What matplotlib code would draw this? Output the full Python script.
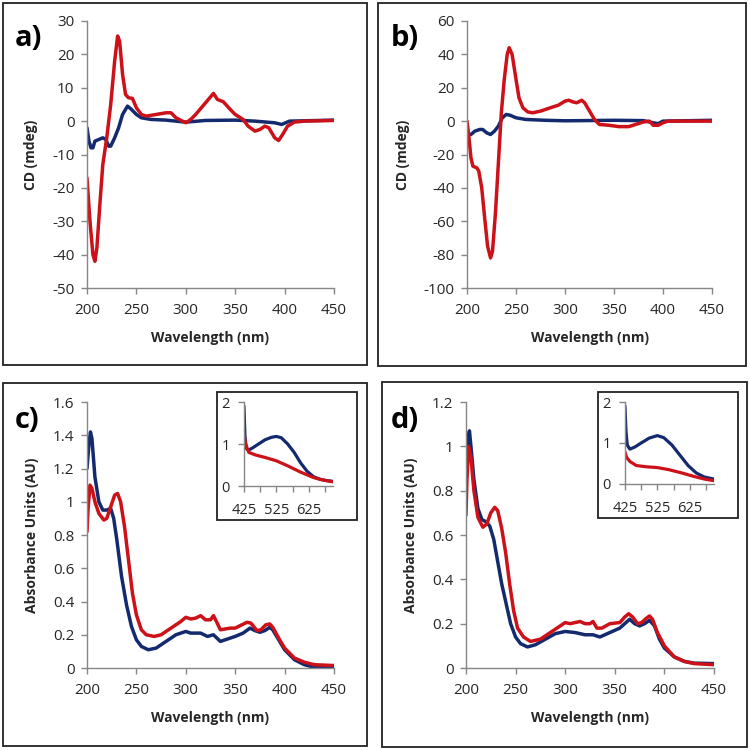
import matplotlib.pyplot as plt
from matplotlib.patches import Rectangle
from matplotlib.ticker import FuncFormatter, MultipleLocator

# ---- data ----
# panel a: CD
a_red_x = [200, 203, 206, 208, 210, 213, 216, 220, 224, 228, 231, 233, 236, 239, 242, 246, 250, 255, 260,
           270, 280, 285, 290, 300, 305, 310, 320, 328, 332, 338, 345, 350, 358, 363, 370, 375, 380, 384,
           390, 394, 398, 403, 410, 420, 450]
a_red_y = [-17, -30, -40, -42, -38, -25, -13, -5, 5, 18, 25.5, 24, 14, 8, 7, 6.8, 4, 2, 1.5,
           2, 2.5, 2.5, 1, -0.5, 0.5, 2, 5.5, 8.3, 6.5, 5.8, 3.5, 2, 0.5, -1.5, -3, -2.5, -1.5, -2,
           -5, -5.8, -4, -1.5, -0.3, 0, 0.2]
a_blue_x = [200, 202, 204, 206, 208, 212, 216, 219, 222, 224, 228, 232, 236, 241, 245, 250, 255, 265,
            280, 300, 320, 350, 370, 390, 397, 405, 450]
a_blue_y = [-2, -6, -8, -8, -6, -5.5, -5, -5.5, -7.5, -7.5, -5, -2, 2, 4.5, 3.5, 2, 1, 0.5,
            0.3, -0.3, 0.2, 0.3, 0, -0.5, -1, 0, 0.3]

# panel b: CD
b_red_x = [200, 202, 204, 206, 210, 212, 215, 218, 221, 224, 226, 229, 232, 235, 238, 241, 243, 246,
           250, 253, 257, 262, 267, 275, 285, 293, 300, 304, 308, 312, 317, 320, 325, 330, 335, 345,
           355, 365, 372, 380, 386, 390, 395, 400, 405, 450]
b_red_y = [0, -10, -22, -27, -28, -30, -40, -58, -75, -82, -78, -55, -25, 5, 25, 40, 44, 40,
           25, 14, 8, 5.5, 5, 6, 8, 9.5, 12, 12.5, 11.5, 11, 12.5, 11, 6, 1, -2, -2.5,
           -3.3, -3.3, -2, -0.5, 0, -2.5, -2.5, -1, 0, 0]
b_blue_x = [200, 204, 208, 213, 216, 220, 224, 228, 232, 236, 240, 244, 250, 260, 280, 300, 350,
            380, 390, 395, 400, 450]
b_blue_y = [-8, -8, -6, -5, -5, -7, -8, -6, -3, 2, 4, 3.5, 2, 1, 0.5, 0.2, 0.5,
            0.3, -1, -1.5, 0, 0.5]

# panel c: absorbance
c_blue_x = [200, 202, 203.5, 205, 208, 212, 216, 220, 224, 227, 230, 235, 240, 245, 250, 255, 262,
            270, 280, 290, 300, 305, 315, 322, 328, 335, 340, 350, 358, 365, 370, 375, 380, 385,
            388, 395, 400, 410, 420, 430, 450]
c_blue_y = [1.2, 1.35, 1.42, 1.38, 1.15, 1.0, 0.95, 0.95, 0.96, 0.9, 0.78, 0.55, 0.38, 0.25, 0.17,
            0.13, 0.11, 0.12, 0.16, 0.2, 0.22, 0.21, 0.21, 0.19, 0.2, 0.16, 0.17, 0.19, 0.21, 0.24,
            0.225, 0.215, 0.225, 0.245, 0.23, 0.16, 0.11, 0.05, 0.02, 0.005, 0.005]
c_red_x = [200, 201, 203, 205, 208, 212, 217, 220, 224, 228, 231, 234, 238, 242, 246, 250, 255, 260,
           268, 275, 285, 290, 295, 300, 305, 310, 315, 320, 325, 328, 331, 335, 340, 345, 350, 355,
           362, 366, 372, 376, 381, 385, 388, 395, 400, 410, 420, 430, 450]
c_red_y = [0.82, 0.95, 1.1, 1.08, 1.0, 0.93, 0.89, 0.9, 0.97, 1.04, 1.05, 1.0, 0.85, 0.65, 0.45,
           0.32, 0.23, 0.2, 0.19, 0.2, 0.24, 0.26, 0.28, 0.305, 0.295, 0.3, 0.315, 0.29, 0.29,
           0.315, 0.28, 0.23, 0.235, 0.24, 0.24, 0.255, 0.275, 0.27, 0.225, 0.23, 0.26, 0.265,
           0.245, 0.17, 0.12, 0.06, 0.035, 0.02, 0.015]

# panel d: absorbance
d_blue_x = [200, 202, 203.5, 205, 208, 212, 216, 220, 224, 228, 232, 236, 240, 245, 250, 255, 262,
            270, 280, 290, 300, 310, 320, 328, 335, 345, 355, 365, 370, 375, 380, 385, 390, 395,
            400, 410, 420, 430, 450]
d_blue_y = [0.95, 1.04, 1.07, 1.0, 0.85, 0.72, 0.67, 0.66, 0.64, 0.58, 0.48, 0.38, 0.3, 0.2, 0.14,
            0.11, 0.095, 0.105, 0.13, 0.155, 0.165, 0.16, 0.15, 0.15, 0.14, 0.16, 0.18, 0.22, 0.2,
            0.19, 0.2, 0.215, 0.19, 0.13, 0.09, 0.05, 0.03, 0.022, 0.02]
d_red_x = [200, 201, 202.5, 205, 208, 212, 217, 221, 225, 229, 232, 236, 240, 244, 248, 252, 258,
           265, 275, 285, 295, 300, 305, 310, 315, 320, 325, 328, 332, 337, 345, 355, 360, 364, 368,
           373, 377, 382, 385, 388, 393, 400, 410, 420, 430, 450]
d_red_y = [0.69, 0.85, 1.0, 0.95, 0.8, 0.68, 0.635, 0.65, 0.7, 0.725, 0.71, 0.63, 0.52, 0.38, 0.26,
           0.18, 0.14, 0.12, 0.13, 0.16, 0.19, 0.205, 0.2, 0.205, 0.21, 0.2, 0.2, 0.21, 0.18, 0.18,
           0.2, 0.205, 0.23, 0.245, 0.23, 0.2, 0.205, 0.225, 0.235, 0.22, 0.16, 0.1, 0.05, 0.03,
           0.02, 0.015]

# insets (visible range)
ci_blue_x = [425, 428, 432, 438, 450, 470, 490, 510, 525, 540, 560, 580, 600, 620, 640, 660, 680, 700]
ci_blue_y = [1.9, 1.2, 0.9, 0.85, 0.9, 1.0, 1.1, 1.16, 1.18, 1.15, 1.0, 0.8, 0.55, 0.35, 0.22, 0.16, 0.13, 0.11]
ci_red_x = [425, 430, 440, 460, 490, 525, 560, 600, 640, 670, 700]
ci_red_y = [1.25, 1.0, 0.8, 0.74, 0.68, 0.6, 0.48, 0.33, 0.2, 0.14, 0.1]
di_blue_x = [425, 428, 432, 440, 455, 475, 500, 525, 545, 570, 595, 620, 645, 670, 700]
di_blue_y = [1.9, 1.3, 0.95, 0.85, 0.9, 1.0, 1.12, 1.18, 1.13, 0.95, 0.7, 0.45, 0.27, 0.17, 0.12]
di_red_x = [425, 430, 440, 460, 490, 525, 560, 600, 640, 670, 700]
di_red_y = [0.78, 0.65, 0.55, 0.45, 0.42, 0.4, 0.35, 0.27, 0.18, 0.12, 0.08]

BLUE = '#142a6e'
RED = '#cc1118'
GRAY = '#868686'
TXT = '#262626'
FONT = 'Open Sans'

plt.rcParams['font.family'] = FONT


def style(ax, fs=11, xpad=7, ypad=5):
    for s in ['top', 'right']:
        ax.spines[s].set_visible(False)
    for s in ['left', 'bottom']:
        ax.spines[s].set_color(GRAY)
        ax.spines[s].set_linewidth(1)
    ax.tick_params(colors=GRAY, labelcolor=TXT, labelsize=fs, length=4, width=1, direction='out')
    ax.tick_params(axis='x', pad=xpad)
    ax.tick_params(axis='y', pad=ypad)
    ax.yaxis.set_major_formatter(FuncFormatter(lambda v, p: '%g' % round(v, 3)))


def plot_pair(ax, bx, by, rx, ry, lw=2.5):
    ax.plot(bx, by, color=BLUE, lw=lw, solid_joinstyle='round', solid_capstyle='round')
    ax.plot(rx, ry, color=RED, lw=lw, solid_joinstyle='round', solid_capstyle='round')


fig = plt.figure(figsize=(7.5, 7.5), dpi=100)

# panel frames
for (x0, y0, x1, y1) in [(3, 3, 367, 365), (378, 3, 746, 366), (3, 383, 367, 746), (382, 382, 747, 747)]:
    fig.patches.append(Rectangle((x0 / 750, 1 - y1 / 750), (x1 - x0) / 750, (y1 - y0) / 750,
                                 transform=fig.transFigure, fill=False, ec='#222222', lw=1.3))

axa = fig.add_axes([0.116, 0.616, 0.3293, 0.356])
axb = fig.add_axes([0.6227, 0.616, 0.3267, 0.356])
axc = fig.add_axes([0.116, 0.1093, 0.3293, 0.3547])
axd = fig.add_axes([0.6213, 0.1093, 0.3307, 0.3547])

plot_pair(axa, a_blue_x, a_blue_y, a_red_x, a_red_y)
plot_pair(axb, b_blue_x, b_blue_y, b_red_x, b_red_y)
plot_pair(axc, c_blue_x, c_blue_y, c_red_x, c_red_y)
plot_pair(axd, d_blue_x, d_blue_y, d_red_x, d_red_y)

axa.set_ylim(-50, 30)
axa.yaxis.set_major_locator(MultipleLocator(10))
axb.set_ylim(-100, 60)
axb.yaxis.set_major_locator(MultipleLocator(20))
axc.set_ylim(0, 1.6)
axc.yaxis.set_major_locator(MultipleLocator(0.2))
axd.set_ylim(0, 1.2)
axd.yaxis.set_major_locator(MultipleLocator(0.2))

for ax, ylab in [(axa, 'CD (mdeg)'), (axb, 'CD (mdeg)'),
                 (axc, 'Absorbance Units (AU)'), (axd, 'Absorbance Units (AU)')]:
    ax.set_xlim(200, 450)
    ax.xaxis.set_major_locator(MultipleLocator(50))
    style(ax)
    ax.set_xlabel('Wavelength (nm)', fontsize=10, fontweight='bold', color=TXT, labelpad=9)
    ax.set_ylabel(ylab, fontsize=10, fontweight='bold', color=TXT, labelpad=10)

for lab, x, y in [('a)', 15, 46), ('b)', 391, 46), ('c)', 15, 428), ('d)', 391, 428)]:
    fig.text(x / 750, 1 - y / 750, lab, fontsize=21, fontweight='bold', color='black')

# inset frames and axes
for (x0, y0, x1, y1) in [(217, 392, 357, 520), (598, 392, 738, 518)]:
    fig.patches.append(Rectangle((x0 / 750, 1 - y1 / 750), (x1 - x0) / 750, (y1 - y0) / 750,
                                 transform=fig.transFigure, fill=True, fc='white', ec='#222222', lw=1.3,
                                 zorder=3))

axci = fig.add_axes([0.3253, 0.352, 0.1187, 0.112])
axdi = fig.add_axes([0.8333, 0.3547, 0.1187, 0.1093])
plot_pair(axci, ci_blue_x, ci_blue_y, ci_red_x, ci_red_y, lw=2.3)
plot_pair(axdi, di_blue_x, di_blue_y, di_red_x, di_red_y, lw=2.3)
for ax in [axci, axdi]:
    ax.set_zorder(4)
    ax.set_facecolor('none')
    ax.set_xlim(425, 700)
    ax.set_ylim(0, 2)
    ax.yaxis.set_major_locator(MultipleLocator(1))
    ax.set_xticks([425, 475, 525, 575, 625, 675])
    ax.set_xticklabels(['425', '', '525', '', '625', ''])
    style(ax, fs=10.5, xpad=8, ypad=6)

fig.savefig('out.png', dpi=100)
